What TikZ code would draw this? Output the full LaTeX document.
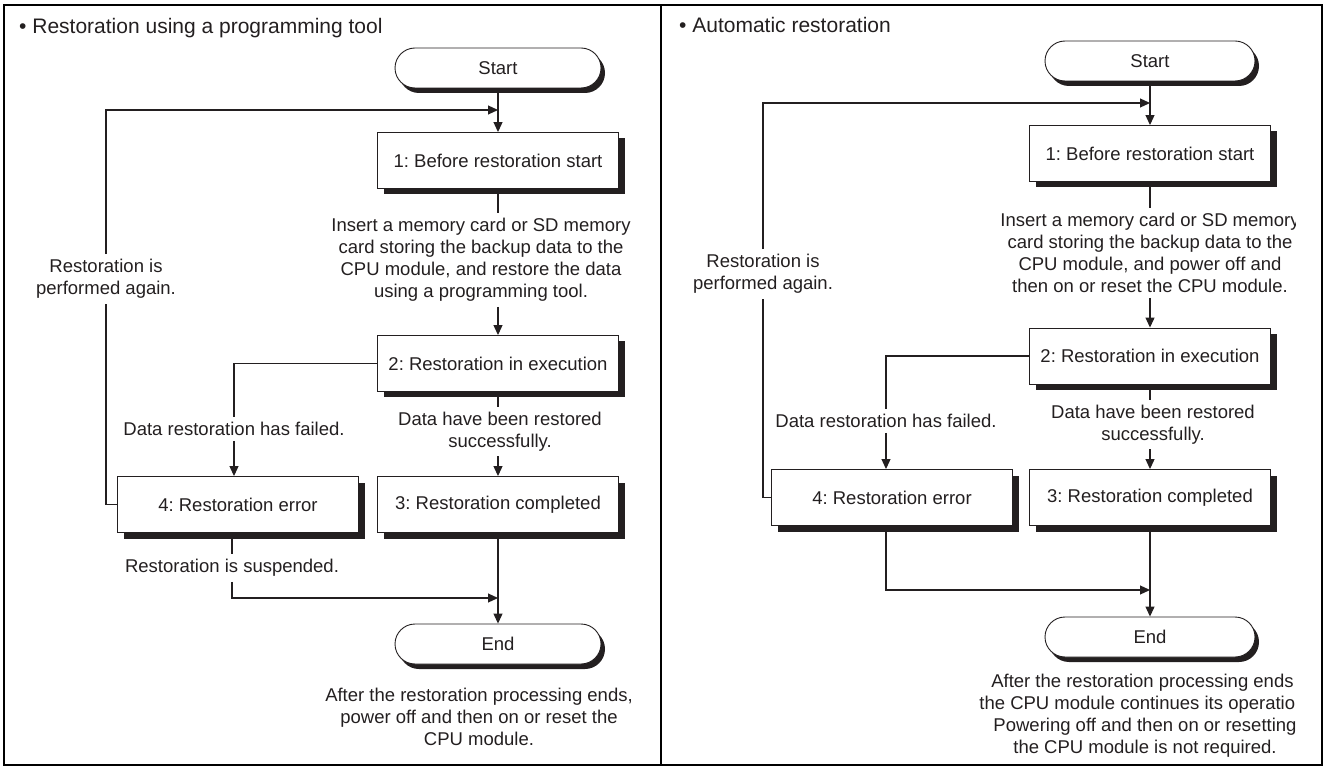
\documentclass[tikz,border=0pt]{standalone}
\usepackage{fontspec}
\setmainfont{Liberation Sans}
\usetikzlibrary{arrows.meta,shadows}
\definecolor{inkgray}{HTML}{231F20}
\frenchspacing

\begin{document}
\begin{tikzpicture}[
    x=1pt, y=-1pt,
    font=\fontsize{18.5}{22}\selectfont,
    text=inkgray,
    stepbox/.style={rectangle, draw=inkgray, line width=0.9pt, fill=white, minimum width=241pt, minimum height=56pt, inner sep=0pt, drop shadow={shadow xshift=6pt, shadow yshift=-6pt, opacity=1, fill=inkgray}},
    terminal/.style={rectangle, rounded corners=20pt, draw=inkgray, line width=0.9pt, fill=white, minimum width=206pt, minimum height=40pt, inner sep=0pt, drop shadow={shadow xshift=4pt, shadow yshift=-5pt, opacity=1, fill=inkgray}},
    note/.style={align=center, inner sep=5pt},
    title/.style={font=\fontsize{21}{25}\selectfont, anchor=west, inner sep=0pt},
    link/.style={draw=inkgray, line width=1.1pt},
    arrow/.style={link, -{Triangle[length=10pt, width=9pt]}}
  ]
    \useasboundingbox (0,0) rectangle (1326,767);

    % Frame
    \draw[line width=2.2pt] (4,5) rectangle (1322,765);
    \draw[line width=2.2pt] (661,5) -- (661,765);

    % Restoration using a programming tool
    \node[title] (titleL) at (19,28) {• Restoration using a programming tool};
    \node[terminal] (startL) at (498,68) {Start};
    \node[stepbox] (b1L) at (498,160.5) {1: Before restoration start};
    \node[note] (insertL) at (481,260) {Insert a memory card or SD memory\\card storing the backup data to the\\CPU module, and restore the data\\using a programming tool.};
    \node[stepbox] (b2L) at (498,363.5) {2: Restoration in execution};
    \node[note] (failL) at (234,429) {Data restoration has failed.};
    \node[note] (okL) at (500,431.5) {Data have been restored\\successfully.};
    \node[stepbox] (b4L) at (238,504.5) {4: Restoration error};
    \node[stepbox] (b3L) at (498,504.5) {3: Restoration completed};
    \node[note] (suspL) at (232,568) {Restoration is suspended.};
    \node[terminal] (endL) at (498,644) {End};
    \node[note] (afterL) at (479,717) {After the restoration processing ends,\\power off and then on or reset the\\CPU module.};
    \node[note] (againL) at (106,279) {Restoration is\\performed again.};
    \coordinate (joinL) at (498,110);
    \coordinate (mergeL) at (498,598);

    \draw[arrow] (startL) -- (b1L);
    \draw[link] (b1L) -- (b1L.south |- insertL.north);
    \draw[arrow] (b1L.south |- insertL.south) -- (b2L);
    \draw[link] (b2L.west) -| (failL.north);
    \draw[arrow] (failL.south) -- (failL.south |- b4L.north);
    \draw[link] (b2L) -- (b2L.south |- okL.north);
    \draw[arrow] (b2L.south |- okL.south) -- (b3L);
    \draw[link] (suspL.north |- b4L.south) -- (suspL.north);
    \draw[arrow] (suspL.south) |- (mergeL);
    \draw[arrow] (b3L) -- (endL);
    \draw[link] (b4L.west) -| (againL.south);
    \draw[arrow] (againL.north) |- (joinL);

    % Automatic restoration
    \node[title] (titleR) at (679,25) {• Automatic restoration};
    \node[terminal, minimum width=210pt] (startR) at (1150,61) {Start};
    \node[stepbox] (b1R) at (1150,153.5) {1: Before restoration start};
    \begin{scope}
      \clip (661,0) rectangle (1295,767);
      \node[note] (insertR) at (1150,253) {Insert a memory card or SD memory\\card storing the backup data to the\\CPU module, and power off and\\then on or reset the CPU module.};
      \node[note] (afterR) at (1145,716) {After the restoration processing ends\phantom{,}\\the CPU module continues its operatio\phantom{n.}\\Powering off and then on or resetting\\the CPU module is not required.};
    \end{scope}
    \node[stepbox] (b2R) at (1150,356) {2: Restoration in execution};
    \node[note] (failR) at (886,421) {Data restoration has failed.};
    \node[note] (okR) at (1153,424.5) {Data have been restored\\successfully.};
    \node[stepbox] (b4R) at (892,497.5) {4: Restoration error};
    \node[stepbox] (b3R) at (1150,497.5) {3: Restoration completed};
    \node[terminal, minimum width=210pt] (endR) at (1150,637) {End};
    \node[note] (againR) at (763,274) {Restoration is\\performed again.};
    \coordinate (joinR) at (1150,103);
    \coordinate (mergeR) at (1150,590);

    \draw[arrow] (startR) -- (b1R);
    \draw[link] (b1R) -- (b1R.south |- insertR.north);
    \draw[arrow] (b1R.south |- insertR.south) -- (b2R);
    \draw[link] (b2R.west) -| (failR.north);
    \draw[arrow] (failR.south) -- (failR.south |- b4R.north);
    \draw[link] (b2R) -- (b2R.south |- okR.north);
    \draw[arrow] (b2R.south |- okR.south) -- (b3R);
    \draw[arrow] (failR.south |- b4R.south) |- (mergeR);
    \draw[arrow] (b3R) -- (endR);
    \draw[link] (b4R.west) -| (againR.south);
    \draw[arrow] (againR.north) |- (joinR);
  \end{tikzpicture}
\end{document}
